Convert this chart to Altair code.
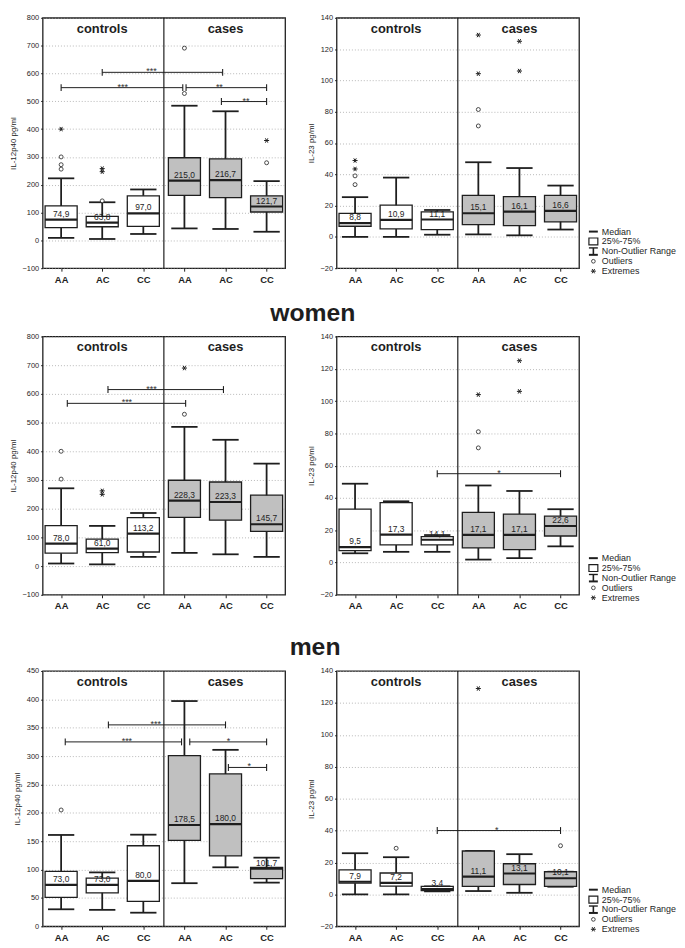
import json
import altair as alt
import pandas as pd

FONT = "Liberation Sans"
INK = "#1e1e1e"

# ---------------- shared categories ----------------
GENOTYPES = ["AA", "AC", "CC", "AA", "AC", "CC"]
GROUPS = ["controls", "controls", "controls", "cases", "cases", "cases"]
GROUP_LABELS = ["controls", "cases"]
GROUP_CENTERS = [2, 5]
GROUP_BOUNDARY = [3.5]
POSITIONS = [1, 2, 3, 4, 5, 6]
SECTION_TITLES = ["women", "men"]
LEGEND_LABELS = ["Median", "25%-75%", "Non-Outlier Range", "Outliers", "Extremes"]

P40_TICKS = [-100, 0, 100, 200, 300, 400, 500, 600, 700, 800]
P40_MEN_TICKS = [0, 50, 100, 150, 200, 250, 300, 350, 400, 450]
IL23_TICKS = [-20, 0, 20, 40, 60, 80, 100, 120, 140]

# ---------------- row 1 : all, IL-12p40 ----------------
A40_LOW = [9, 5, 23, 43, 41, 31]
A40_Q1 = [46, 49, 50, 162, 154, 102]
A40_MED = [74.9, 63.8, 97.0, 215.0, 216.7, 121.7]
A40_Q3 = [124, 86, 160, 297, 293, 160]
A40_HIGH = [223, 137, 183, 484, 464, 213]
A40_OUT_POS = [1, 1, 1, 2, 4, 4, 6]
A40_OUT_VAL = [300, 272, 256, 142, 528, 691, 279]
A40_EXT_POS = [1, 2, 2, 6]
A40_EXT_VAL = [400, 258, 247, 359]
A40_BR_X1 = [2, 1, 4.04, 4.9]
A40_BR_X2 = [4.93, 3.96, 6, 6]
A40_BR_Y = [604, 549, 549, 499]
A40_BR_TXT = ["***", "***", "**", "**"]
A40_BR_TX = [3.2, 2.5, 4.85, 5.5]

# ---------------- row 1 : all, IL-23 ----------------
A23_LOW = [0, 0, 1.4, 1.6, 1.0, 4.7]
A23_Q1 = [6.8, 5.1, 4.7, 7.8, 7.2, 9.6]
A23_MED = [8.8, 10.9, 11.1, 15.1, 16.1, 16.6]
A23_Q3 = [15, 20.3, 16, 26.6, 25.8, 26.6]
A23_HIGH = [25.4, 37.9, 17.2, 47.7, 44, 32.8]
A23_OUT_POS = [1, 1, 4, 4]
A23_OUT_VAL = [33.4, 39, 70.9, 81.4]
A23_EXT_POS = [1, 1, 4, 4, 5, 5]
A23_EXT_VAL = [43.4, 48.8, 104.3, 129, 106, 125]

# ---------------- row 2 : women, IL-12p40 ----------------
W40_LOW = [9, 6, 32, 46, 41, 32]
W40_Q1 = [45, 47, 49, 170, 160, 121]
W40_MED = [78.0, 61.0, 113.2, 228.3, 223.3, 145.7]
W40_Q3 = [141, 94, 169, 299, 293, 247]
W40_HIGH = [271, 140, 185, 485, 440, 357]
W40_OUT_POS = [1, 1, 4]
W40_OUT_VAL = [303, 400, 529]
W40_EXT_POS = [2, 2, 4]
W40_EXT_VAL = [262, 250, 690]
W40_BR_X1 = [2.14, 1.15]
W40_BR_X2 = [4.95, 4.03]
W40_BR_Y = [615, 567]
W40_BR_TXT = ["***", "***"]
W40_BR_TX = [3.2, 2.6]

# ---------------- row 2 : women, IL-23 ----------------
W23_LOW = [5.7, 6.6, 6.6, 1.8, 2.7, 10]
W23_Q1 = [7.4, 10.9, 10.9, 9, 8, 16.4]
W23_MED = [9.5, 17.3, 14.1, 17.1, 17.1, 22.6]
W23_Q3 = [33, 37.1, 16, 31, 30, 28.7]
W23_HIGH = [48.8, 37.9, 17, 47.7, 44.3, 33]
W23_OUT_POS = [4, 4]
W23_OUT_VAL = [81, 71]
W23_EXT_POS = [4, 5, 5]
W23_EXT_VAL = [104, 125, 106]
W23_BR_X1 = [3]
W23_BR_X2 = [6]
W23_BR_Y = [55]
W23_BR_TXT = ["*"]
W23_BR_TX = [4.5]

# ---------------- row 3 : men, IL-12p40 ----------------
M40_LOW = [30, 29, 24, 76, 104, 77]
M40_Q1 = [51, 59, 44, 151.5, 124, 84]
M40_MED = [73.0, 73.0, 80.0, 178.5, 180.0, 101.7]
M40_Q3 = [97, 85, 142, 301, 268.5, 104]
M40_HIGH = [161, 95, 161.5, 397, 311, 121]
M40_OUT_POS = [1]
M40_OUT_VAL = [205]
M40_EXT_POS = []
M40_EXT_VAL = []
M40_BR_X1 = [2.15, 1.1, 4.13, 5.07]
M40_BR_X2 = [5.0, 3.93, 6, 6]
M40_BR_Y = [355, 325, 325, 280]
M40_BR_TXT = ["***", "***", "*", "*"]
M40_BR_TX = [3.3, 2.6, 5.07, 5.58]

# ---------------- row 3 : men, IL-23 ----------------
M23_LOW = [0, 0, 1.9, 2.1, 1.0, 4.8]
M23_Q1 = [7.0, 5.2, 2.3, 5, 6.2, 5]
M23_MED = [7.9, 7.2, 3.4, 11.1, 13.1, 10.1]
M23_Q3 = [15.3, 13.4, 5.0, 27.2, 19.2, 14.2]
M23_HIGH = [25.8, 23.3, 5.0, 27.2, 25.2, 14.2]
M23_OUT_POS = [2, 6]
M23_OUT_VAL = [28.9, 30.5]
M23_EXT_POS = [4]
M23_EXT_VAL = [129]
M23_BR_X1 = [3]
M23_BR_X2 = [6]
M23_BR_Y = [40]
M23_BR_TXT = ["*"]
M23_BR_TX = [4.45]

ASTERISK = "M-1,0L1,0M-0.5,-0.866L0.5,0.866M-0.5,0.866L0.5,-0.866"
VBAR = "M0,-1L0,1"
PANEL_W = 245
ROW_H = [253, 261, 258]


def panel(low, q1, med, q3, high, out_pos, out_val, ext_pos, ext_val,
          br, ydom, yticks, ytitle, height):
    xs = alt.Scale(domain=[0.55, 6.45], nice=False, zero=False)
    ys = alt.Scale(domain=ydom, nice=False, zero=False)
    xaxis = alt.Axis(values=POSITIONS, labelExpr=json.dumps(GENOTYPES) + "[datum.value - 1]",
                     grid=False, domain=False, tickSize=3, tickColor=INK,
                     labelFontSize=9.5, labelFontWeight="bold", labelPadding=3,
                     labelColor=INK, labelFont=FONT)
    yaxis = alt.Axis(values=yticks, grid=True, gridDash=[1, 2], gridColor="#9a9a9a",
                     gridWidth=0.7, domain=False, tickSize=2, tickColor=INK,
                     labelFontSize=7.5, labelPadding=2, labelColor=INK, labelFont=FONT,
                     labelFlush=False, labelOverlap=False,
                     titleFontSize=8, titleFontWeight="normal", titlePadding=5,
                     titleColor=INK, titleFont=FONT)

    def X(f):
        return alt.X(f, type="quantitative", scale=xs, axis=xaxis, title=None)

    def Y(f):
        return alt.Y(f, type="quantitative", scale=ys, axis=yaxis, title=ytitle)

    box = pd.DataFrame({"pos": POSITIONS, "group": GROUPS, "low": low, "q1": q1,
                        "med": med, "q3": q3, "high": high})
    base = alt.Chart(box).transform_calculate(
        cl="datum.pos - 0.32", cr="datum.pos + 0.32",
        bl="datum.pos - 0.39", br="datum.pos + 0.39",
        lab="replace(format(datum.med, '.1f'), '.', ',')")

    layers = []
    layers.append(alt.Chart(pd.DataFrame({"bx": GROUP_BOUNDARY}))
                  .mark_rule(color=INK, strokeWidth=1.2).encode(x=X("bx")))
    layers.append(base.mark_rule(color=INK, strokeWidth=1.8)
                  .encode(x=X("pos"), y=Y("low"), y2="high"))
    layers.append(base.mark_rule(color=INK, strokeWidth=1.8)
                  .encode(x=X("cl"), x2="cr", y=Y("low")))
    layers.append(base.mark_rule(color=INK, strokeWidth=1.8)
                  .encode(x=X("cl"), x2="cr", y=Y("high")))
    layers.append(base.mark_rect(stroke=INK, strokeWidth=1.3)
                  .encode(x=X("bl"), x2="br", y=Y("q1"), y2="q3",
                          fill=alt.Fill("group:N", legend=None,
                                        scale=alt.Scale(domain=GROUP_LABELS,
                                                        range=["#ffffff", "#c0c0c0"]))))
    layers.append(base.mark_rule(color=INK, strokeWidth=2.2)
                  .encode(x=X("bl"), x2="br", y=Y("med")))
    layers.append(base.mark_text(fontSize=8.5, baseline="bottom", dy=-1, color=INK, font=FONT)
                  .encode(x=X("pos"), y=Y("med"), text="lab:N"))
    if out_pos:
        layers.append(alt.Chart(pd.DataFrame({"op": out_pos, "ov": out_val}))
                      .mark_point(shape="circle", size=16, fill="white", fillOpacity=1,
                                  stroke=INK, strokeWidth=0.8, opacity=1)
                      .encode(x=X("op"), y=Y("ov")))
    if ext_pos:
        layers.append(alt.Chart(pd.DataFrame({"ep": ext_pos, "ev": ext_val}))
                      .mark_point(shape=ASTERISK, size=26, stroke=INK, strokeWidth=1,
                                  opacity=1)
                      .encode(x=X("ep"), y=Y("ev")))
    if br is not None:
        bx1, bx2, by, btxt, btx = br
        bdf = pd.DataFrame({"x1": bx1, "x2": bx2, "y": by, "txt": btxt, "tx": btx})
        layers.append(alt.Chart(bdf).mark_rule(color=INK, strokeWidth=1)
                      .encode(x=X("x1"), x2="x2", y=Y("y")))
        layers.append(alt.Chart(bdf).transform_fold(["x1", "x2"], as_=["end", "xe"])
                      .mark_point(shape=VBAR, size=49, stroke=INK, strokeWidth=1.1, opacity=1)
                      .encode(x=X("xe"), y=Y("y")))
        layers.append(alt.Chart(bdf).mark_text(fontSize=9, baseline="alphabetic", dy=2,
                                               color="#333", font=FONT)
                      .encode(x=X("tx"), y=Y("y"), text="txt:N"))
    gdf = pd.DataFrame({"gx": GROUP_CENTERS, "glab": GROUP_LABELS,
                        "gy": [ydom[1]] * len(GROUP_CENTERS)})
    layers.append(alt.Chart(gdf).mark_text(fontSize=13, fontWeight="bold", baseline="top",
                                           dy=5, color=INK, font=FONT)
                  .encode(x=X("gx"), y=Y("gy"), text="glab:N"))
    return alt.layer(*layers).properties(width=PANEL_W, height=height)


def legend(height):
    ldf = pd.DataFrame({"label": LEGEND_LABELS, "idx": list(range(len(LEGEND_LABELS)))})
    unit = 10.0
    d0 = -(height - 37) / unit
    lxs = alt.Scale(domain=[0, 92], nice=False, zero=False)
    lys = alt.Scale(domain=[d0, d0 + height / unit], nice=False, zero=False, reverse=True)

    def LX(f):
        return alt.X(f, type="quantitative", scale=lxs, axis=None)

    def LY(f):
        return alt.Y(f, type="quantitative", scale=lys, axis=None)

    base = alt.Chart(ldf).transform_calculate(x0="4", x1="13", xc="8.5", xt="17",
                                             ya="datum.idx - 0.35", yb="datum.idx + 0.35")
    layers = [
        base.mark_text(align="left", baseline="middle", fontSize=9, color=INK, font=FONT)
        .encode(x=LX("xt"), y=LY("idx"), text="label:N"),
        base.transform_filter("datum.idx == 0").mark_rule(color=INK, strokeWidth=2)
        .encode(x=LX("x0"), x2="x1", y=LY("idx")),
        base.transform_filter("datum.idx == 1").mark_rect(fill="white", stroke=INK, strokeWidth=1.2)
        .encode(x=LX("x0"), x2="x1", y=LY("ya"), y2="yb"),
        base.transform_filter("datum.idx == 2").mark_rule(color=INK, strokeWidth=1.6)
        .encode(x=LX("xc"), y=LY("ya"), y2="yb"),
        base.transform_filter("datum.idx == 2").mark_rule(color=INK, strokeWidth=1.4)
        .encode(x=LX("x0"), x2="x1", y=LY("ya")),
        base.transform_filter("datum.idx == 2").mark_rule(color=INK, strokeWidth=2)
        .encode(x=LX("x0"), x2="x1", y=LY("yb")),
        base.transform_filter("datum.idx == 3").mark_point(shape="circle", size=14, fill="white",
                                                           fillOpacity=1, stroke=INK,
                                                           strokeWidth=0.8, opacity=1)
        .encode(x=LX("xc"), y=LY("idx")),
        base.transform_filter("datum.idx == 4").mark_point(shape=ASTERISK, size=25, stroke=INK,
                                                           strokeWidth=1, opacity=1)
        .encode(x=LX("xc"), y=LY("idx")),
    ]
    return alt.layer(*layers).properties(width=92, height=height,
                                         view=alt.ViewBackground(stroke="transparent"))


def row(left, right, h, title=None):
    inner = alt.hconcat(right, legend(h), spacing=4)
    if title is None:
        return alt.hconcat(left, inner, spacing=20)
    return alt.hconcat(left, inner, spacing=20,
                       title=alt.TitleParams(text=title, fontSize=25, fontWeight="bold",
                                             font=FONT, color=INK, anchor="middle",
                                             dx=-30, offset=6))


r1 = row(
    panel(A40_LOW, A40_Q1, A40_MED, A40_Q3, A40_HIGH, A40_OUT_POS, A40_OUT_VAL,
          A40_EXT_POS, A40_EXT_VAL, (A40_BR_X1, A40_BR_X2, A40_BR_Y, A40_BR_TXT, A40_BR_TX),
          [-100, 800], P40_TICKS, "IL-12p40 pg/ml", ROW_H[0]),
    panel(A23_LOW, A23_Q1, A23_MED, A23_Q3, A23_HIGH, A23_OUT_POS, A23_OUT_VAL,
          A23_EXT_POS, A23_EXT_VAL, None, [-20, 140], IL23_TICKS, "IL-23 pg/ml", ROW_H[0]),
    ROW_H[0])
r2 = row(
    panel(W40_LOW, W40_Q1, W40_MED, W40_Q3, W40_HIGH, W40_OUT_POS, W40_OUT_VAL,
          W40_EXT_POS, W40_EXT_VAL, (W40_BR_X1, W40_BR_X2, W40_BR_Y, W40_BR_TXT, W40_BR_TX),
          [-100, 800], P40_TICKS, "IL-12p40 pg/ml", ROW_H[1]),
    panel(W23_LOW, W23_Q1, W23_MED, W23_Q3, W23_HIGH, W23_OUT_POS, W23_OUT_VAL,
          W23_EXT_POS, W23_EXT_VAL, (W23_BR_X1, W23_BR_X2, W23_BR_Y, W23_BR_TXT, W23_BR_TX),
          [-20, 140], IL23_TICKS, "IL-23 pg/ml", ROW_H[1]),
    ROW_H[1], SECTION_TITLES[0])
r3 = row(
    panel(M40_LOW, M40_Q1, M40_MED, M40_Q3, M40_HIGH, M40_OUT_POS, M40_OUT_VAL,
          M40_EXT_POS, M40_EXT_VAL, (M40_BR_X1, M40_BR_X2, M40_BR_Y, M40_BR_TXT, M40_BR_TX),
          [0, 450], P40_MEN_TICKS, "IL-12p40 pg/ml", ROW_H[2]),
    panel(M23_LOW, M23_Q1, M23_MED, M23_Q3, M23_HIGH, M23_OUT_POS, M23_OUT_VAL,
          M23_EXT_POS, M23_EXT_VAL, (M23_BR_X1, M23_BR_X2, M23_BR_Y, M23_BR_TXT, M23_BR_TX),
          [-20, 140], IL23_TICKS, "IL-23 pg/ml", ROW_H[2]),
    ROW_H[2], SECTION_TITLES[1])

chart = (alt.vconcat(alt.vconcat(r1, r2, spacing=16), r3, spacing=24)
         .properties(padding={"left": 0, "top": 0, "right": 0, "bottom": 0})
         .configure(font=FONT)
         .configure_view(stroke=INK, strokeWidth=1.3))

chart.save("out.html", embed_options={"renderer": "svg", "actions": False})
